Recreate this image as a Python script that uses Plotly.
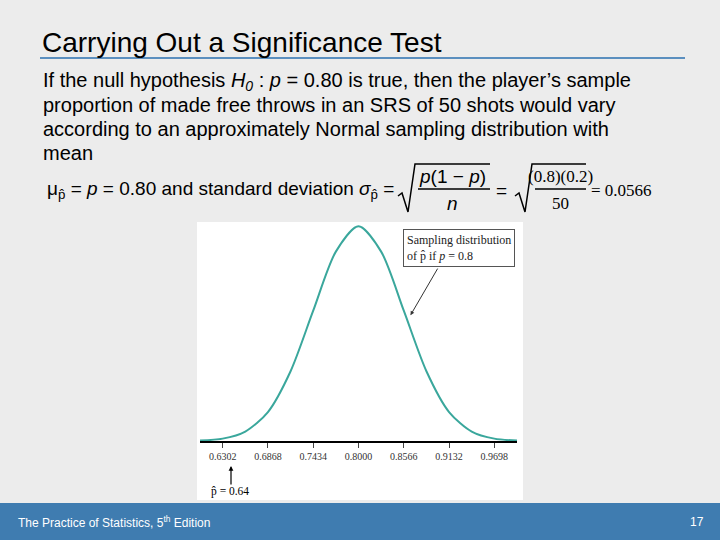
import plotly.graph_objects as go

W, H = 720, 540

# curve heights (relative to the peak)
p_hat = [0.6019, 0.6302, 0.6585, 0.6868, 0.7151, 0.7434, 0.7717, 0.8000,
         0.8283, 0.8566, 0.8849, 0.9132, 0.9415, 0.9698, 0.9981]
height = [0.002, 0.011, 0.044, 0.135, 0.325, 0.607, 0.882, 1.0,
          0.882, 0.607, 0.325, 0.135, 0.044, 0.011, 0.002]
tick_vals = [0.6302, 0.6868, 0.7434, 0.8000, 0.8566, 0.9132, 0.9698]
tick_text = ["0.6302", "0.6868", "0.7434", "0.8000", "0.8566", "0.9132", "0.9698"]


def px(x):
    return x / W


def py(y):
    return 1 - y / H


fig = go.Figure()
fig.add_trace(go.Scatter(x=p_hat, y=height, mode="lines",
                         line=dict(color="#3aa79c", width=2, shape="spline", smoothing=0.8),
                         hoverinfo="skip"))

shapes = [
    dict(type="rect", xref="paper", yref="paper", x0=px(197), x1=px(523),
         y0=py(500), y1=py(222), fillcolor="white", line_width=0, layer="below"),
    dict(type="rect", xref="paper", yref="paper", x0=0, x1=1,
         y0=0, y1=py(503), fillcolor="#3f7cb0", line_width=0, layer="below"),
    dict(type="line", xref="paper", yref="paper", x0=px(40), x1=px(685),
         y0=py(58), y1=py(58), line=dict(color="#5b8fbf", width=2)),
]
# fraction bars and radical signs
for xs, xe in [(415, 490), (532, 586)]:
    shapes.append(dict(type="line", xref="paper", yref="paper", x0=px(xs + 3), x1=px(xe),
                       y0=py(189), y1=py(189), line=dict(color="black", width=1.5)))
    shapes.append(dict(type="path", xref="paper", yref="paper",
                       path=f"M {px(xs-17)} {py(196)} L {px(xs-13)} {py(193)} L {px(xs-7)} {py(212)} "
                            f"L {px(xs)} {py(164)} L {px(xe)} {py(164)}",
                       line=dict(color="black", width=1.5)))

ann = []


def txt(x, y, s, size=17, anchor="left", color="black", family="Liberation Sans"):
    ann.append(dict(x=px(x), y=py(y), xref="paper", yref="paper", text=s, showarrow=False,
                    xanchor=anchor, yanchor="middle",
                    font=dict(size=size, color=color, family=family)))


txt(40, 43, "Carrying Out a Significance Test", size=28)
body = ["If the null hypothesis <i>H<sub>0</sub></i> : <i>p</i> = 0.80 is true, then the player’s sample",
        "proportion of made free throws in an SRS of 50 shots would vary",
        "according to an approximately Normal sampling distribution with",
        "mean"]
for i, line in enumerate(body):
    txt(41, 81 + 24 * i, line, size=20)
txt(45, 190, "μ<sub>p̂</sub> = <i>p</i> = 0.80 and standard deviation <i>σ</i><sub>p̂</sub> =", size=19)
txt(452, 176, "<i>p</i>(1 − <i>p</i>)", size=19, anchor="center")
txt(452, 203, "<i>n</i>", size=19, anchor="center")
txt(494, 190, "=", size=19)
txt(560, 176, "(0.8)(0.2)", size=17, anchor="center", family="Liberation Serif")
txt(560, 203, "50", size=17, anchor="center", family="Liberation Serif")
txt(589, 190, "= 0.0566", size=17, family="Liberation Serif")
txt(16, 522, "The Practice of Statistics, 5<sup>th</sup> Edition", size=12, color="white")
txt(706, 522, "17", size=12, anchor="right", color="white")

ann.append(dict(x=0.865, y=0.586, xref="x", yref="y", ax=0.900, ay=0.81,
                axref="x", ayref="y", showarrow=True, arrowhead=2, arrowsize=0.8,
                arrowwidth=1, arrowcolor="#333", text=""))
ann.append(dict(x=px(459), y=py(248), xref="paper", yref="paper",
                text="Sampling distribution<br>of p̂ if <i>p</i> = 0.8", showarrow=False,
                align="left", bordercolor="#555", borderwidth=1, borderpad=3, bgcolor="white",
                font=dict(size=12, family="Liberation Serif", color="#222")))
ann.append(dict(x=px(231), y=py(466), xref="paper", yref="paper", ax=0, ay=20,
                showarrow=True, arrowhead=2, arrowsize=0.8, arrowwidth=1.2,
                arrowcolor="black", text=""))
txt(209, 491, "p̂ = 0.64", size=11.5, family="Liberation Serif")

fig.update_layout(
    width=W, height=H, margin=dict(l=0, r=0, t=0, b=0),
    paper_bgcolor="#ececec", plot_bgcolor="rgba(0,0,0,0)",
    showlegend=False, shapes=shapes, annotations=ann,
    xaxis=dict(domain=[px(200), px(517)], range=[0.6019, 0.9981],
               tickvals=tick_vals, ticktext=tick_text, ticks="outside", ticklen=5,
               showline=True, linecolor="black", linewidth=1.5, showgrid=False,
               zeroline=False, tickfont=dict(size=10, family="Liberation Serif", color="#333")),
    yaxis=dict(domain=[py(441), py(222)], range=[0, 1.02], visible=False),
)
fig.write_html("out.html", config={"displayModeBar": False},
               post_script="document.body.style.margin='0';")
